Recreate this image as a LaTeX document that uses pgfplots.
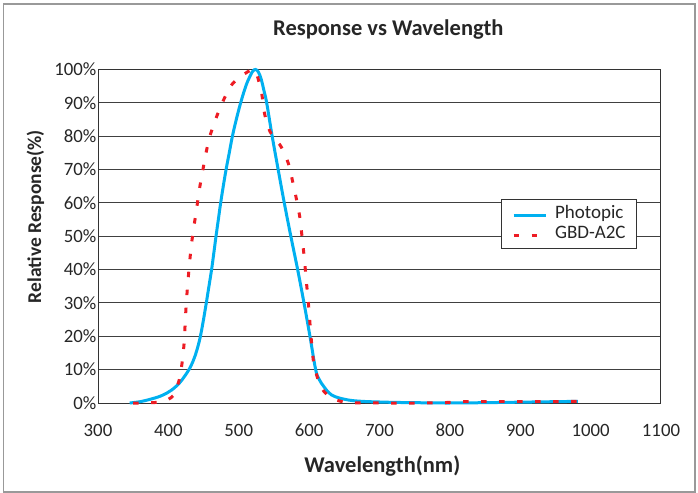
\documentclass[border=0pt]{standalone}
\usepackage{fontspec}
\setmainfont{Carlito}
\usepackage{pgfplots}
\pgfplotsset{compat=1.18}
\definecolor{photo}{RGB}{0,176,240}
\definecolor{gbd}{RGB}{237,28,36}
\definecolor{txt}{RGB}{38,38,38}
\begin{document}
\begin{tikzpicture}
\path[use as bounding box] (0bp,0bp) rectangle (698bp,493bp);
\draw[black!40, line width=1.5bp] (3.5bp,1.2bp) rectangle (695bp,489bp);
\begin{axis}[
  at={(98bp,90bp)}, anchor=south west,
  scale only axis, width=563bp, height=333.5bp,
  xmin=300, xmax=1100, ymin=0, ymax=100,
  clip=false,
  xtick={300,400,500,600,700,800,900,1000,1100},
  xticklabels={300,400,500,600,700,800,900,1000,1100},
  ytick={0,10,20,30,40,50,60,70,80,90,100},
  yticklabels={0\%,10\%,20\%,30\%,40\%,50\%,60\%,70\%,80\%,90\%,100\%},
  major tick length=0pt,
  ticklabel style={font=\fontsize{18.8bp}{22bp}\selectfont, text=txt},
  yticklabel style={inner sep=1.5bp},
  xticklabel style={yshift=-17.5bp},
  ymajorgrids,
  grid style={black!75, line width=0.9bp},
  axis line style={black!80, line width=1bp},
  title={Response vs Wavelength},
  title style={at={(axis description cs:0.5157,1.0855)}, anchor=base, font=\bfseries\fontsize{22.5bp}{27bp}\selectfont, text=txt},
  xlabel={Wavelength(nm)},
  xlabel style={at={(axis description cs:0.505,-0.207)}, anchor=base, font=\bfseries\fontsize{22.5bp}{27bp}\selectfont, text=txt},
  ylabel={Relative Response(\%)},
  ylabel style={at={(axis description cs:-0.1012,0.559)}, anchor=base, font=\bfseries\fontsize{19.5bp}{23bp}\selectfont, text=txt},
  legend cell align=left,
  legend image code/.code={\draw[#1] (0bp,-2bp) -- (32bp,-2bp);},
  legend style={at={(axis description cs:0.9574,0.6117)}, anchor=north east,
    draw=black!80, line width=0.8bp, font=\fontsize{19bp}{22bp}\selectfont, text=txt,
    inner xsep=11bp, inner ysep=6bp, row sep=3bp, column sep=8bp,
    nodes={inner sep=0bp, text height=13bp, text depth=4bp}},
]
\addplot[photo, line width=3bp, smooth, tension=0.6] coordinates {
(345,0) (360,0.4) (374,1.1) (388,2.0) (398,3.0) (404.7,3.9) (411,5.0) (417,6.3)
(423,8.0) (429.8,10.2) (435,12.5) (440,15.5) (445,19.5) (449.5,24.5) (453.5,29.5)
(457.5,34.8) (461.4,40) (464.6,45) (467.7,50)
(471,55) (474.3,60) (478,65) (482,70) (486.5,75) (491,80) (496.5,85)
(502.7,90) (510,95) (516,98) (520,99.5) (524,100) (528,99.2) (532,97)
(536,93.5) (539.7,90) (547.5,80) (556,70) (564.7,60) (574,50) (583.7,40) (592.7,30)
(601.2,20) (609.3,10) (614.5,7) (621,4.9) (628,3.1) (636.8,1.9) (655.7,0.9)
(675,0.5) (700,0.3) (730,0.15) (770,0.05) (800,0) (850,0.1) (900,0.25)
(950,0.4) (982,0.5)
};
\addlegendentry{Photopic}
\addplot[gbd, line width=3bp, dash pattern=on 5.5bp off 12.5bp, smooth, tension=0.5] coordinates {
(350,0) (362,0) (384.3,0.2) (398,0.9) (408,2.4) (412.5,5) (416.5,7.9)
(420.3,13.4) (422.7,18.9) (424,24.6) (425.5,30) (427.5,35.7) (429.7,41)
(432.4,46.9) (436,52.5) (440,58) (444,64) (448.7,69.5) (453.5,75) (459,80)
(467,85) (476.6,90) (488.5,95) (500,97.5) (509,98.8) (516,99.7) (521,100)
(525,99) (527.8,97) (532.5,93) (536,87.5) (540,84) (544.4,81.4) (552,79)
(560,76.9) (570.4,71.9) (576.6,66.4) (582.2,60.9) (587,55.4) (589.9,49.9)
(592.7,44.4) (595.1,38.9) (597.4,33.4) (599.8,27.9) (601.7,22.4) (604,16.9)
(607,11.4) (614.5,5.9) (621,3.5) (630.6,1.7) (645,0.5) (658,0.1) (700,0)
(750,0) (790,0.1) (817,0.4) (850,0.4) (900,0.4) (950,0.4) (985,0.5)
};
\addlegendentry{GBD-A2C}
\end{axis}
\end{tikzpicture}
\end{document}
